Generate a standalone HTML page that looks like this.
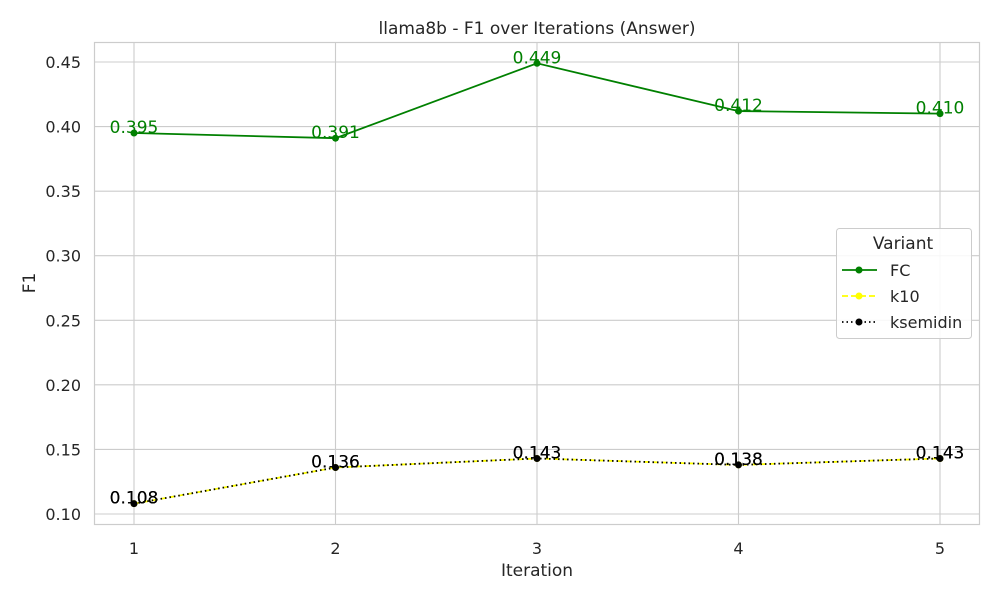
<!DOCTYPE html>
<html><head><meta charset="utf-8"><style>body{margin:0;background:#fff}svg{display:block;font-family:"DejaVu Sans","Liberation Sans",sans-serif}</style></head>
<body>
<svg id="c" width="1000" height="600">
<rect width="1000" height="600" fill="#fff"/>
<text x="537" y="34" font-size="17" text-anchor="middle" fill="#262626">llama8b - F1 over Iterations (Answer)</text>
<text x="537" y="576" font-size="17" text-anchor="middle" fill="#262626">Iteration</text>
<text transform="translate(35,283) rotate(-90)" font-size="17" text-anchor="middle" fill="#262626">F1</text>
<g id="grid"></g><g id="series"></g>
<rect x="94.5" y="42.5" width="885" height="482" fill="none" stroke="#ccc" stroke-width="1.2"/>
<g>
<rect x="836.5" y="228.5" width="135" height="110" rx="3" fill="#fff" fill-opacity="0.85" stroke="#ccc"/>
<text x="903" y="249" font-size="17" text-anchor="middle" fill="#262626">Variant</text>
<g><line x1="842" y1="270" x2="877" y2="270" stroke="green" stroke-width="1.8"/><circle cx="859" cy="270" r="3.5" fill="green"/><text x="890" y="276" font-size="16" fill="#262626">FC</text></g>
<g><line x1="842" y1="296" x2="877" y2="296" stroke="yellow" stroke-width="1.8" stroke-dasharray="6,3"/><circle cx="859" cy="296" r="3.5" fill="yellow"/><text x="890" y="302" font-size="16" fill="#262626">k10</text></g>
<g><line x1="842" y1="322" x2="877" y2="322" stroke="#000" stroke-width="1.8" stroke-dasharray="1.5,3"/><circle cx="859" cy="322" r="3.5" fill="#000"/><text x="890" y="328" font-size="16" fill="#262626">ksemidin</text></g>
</g>
</svg>
<script>
const iterations=[1,2,3,4,5];
const fcValues=[0.395,0.391,0.449,0.412,0.410];
const k10Values=[0.108,0.136,0.143,0.138,0.143];
const ksemidinValues=[0.108,0.136,0.143,0.138,0.143];
const yTicks=[0.10,0.15,0.20,0.25,0.30,0.35,0.40,0.45];
const NS="http://www.w3.org/2000/svg";
const xs=v=>134+(v-1)*(940-134)/4;
const ys=v=>514-(v-0.10)*(514-62)/0.35;
function mk(tag,attrs,parent){const e=document.createElementNS(NS,tag);for(const k in attrs)e.setAttribute(k,attrs[k]);parent.appendChild(e);return e;}
const grid=document.getElementById('grid'),ser=document.getElementById('series'),svg=document.getElementById('c');
yTicks.forEach(t=>{const y=ys(t);
const l=mk('line',{x1:95,x2:980,y1:y,y2:y,stroke:'#ccc','stroke-width':1.1},grid);


const tx=mk('text',{x:81,y:y+6,'font-size':16,'text-anchor':'end',fill:'#262626'},svg);tx.textContent=t.toFixed(2);

});
iterations.forEach(v=>{const x=xs(v);
const l=mk('line',{x1:x,x2:x,y1:43,y2:524,stroke:'#ccc','stroke-width':1.1},grid);


const tx=mk('text',{x:x,y:554,'font-size':16,'text-anchor':'middle',fill:'#262626'},svg);tx.textContent=v;

});
function draw(vals,color,dash,name,labelColor){
const g=mk('g',{},ser);


const pts=vals.map((v,i)=>xs(iterations[i])+','+ys(v)).join(' ');
const pl=mk('polyline',{points:pts,fill:'none',stroke:color,'stroke-width':1.8},g);
if(dash)pl.setAttribute('stroke-dasharray',dash);


vals.forEach((v,i)=>{const c=mk('circle',{cx:xs(iterations[i]),cy:ys(v),r:3.5,fill:color},g);


const t=mk('text',{x:xs(iterations[i]),y:ys(v)+0,'font-size':17,'text-anchor':'middle',fill:labelColor},g);t.textContent=v.toFixed(3);

});}
draw(fcValues,'green',null,'fc','green');
draw(k10Values,'yellow','6,3','k10','#000');
draw(ksemidinValues,'#000','1.5,3','ksemidin','#000');
</script>
</body></html>
